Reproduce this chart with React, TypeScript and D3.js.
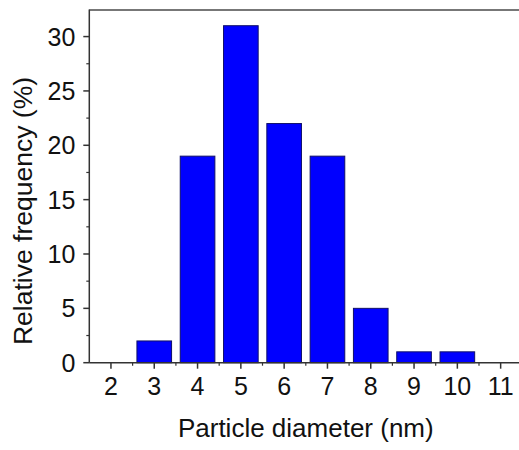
import React from "react";
import * as d3 from "d3";

const diameters = [3, 4, 5, 6, 7, 8, 9, 10];
const frequencies = [2, 19, 31, 22, 19, 5, 1, 1];
const xTickValues = [2, 3, 4, 5, 6, 7, 8, 9, 10, 11];
const yTickValues = [0, 5, 10, 15, 20, 25, 30];
const xTitle = "Particle diameter (nm)";
const yTitle = "Relative frequency (%)";

export default function App() {
  const W = 519;
  const H = 450;
  const left = 89.3;
  const right = 522.3;
  const top = 9.4;
  const bottom = 362.7;

  const x = d3.scaleLinear().domain([1.5, 11.5]).range([left, right]);
  const y = d3.scaleLinear().domain([0, 32.5]).range([bottom, top]);

  const xMinor = d3.range(2.5, 11.5, 1);
  const yMinor = d3.range(2.5, 32.5, 5);
  const font = "'Liberation Sans', Arial, sans-serif";
  const axisColor = "#333";

  return (
    <svg
      width={W}
      height={H}
      style={{ position: "absolute", left: 0, top: 0, background: "#fff" }}
      fontFamily={font}
    >
      <rect x={0} y={0} width={W} height={H} fill="#fff" />
      {diameters.map((d, i) => (
        <rect
          key={d}
          x={x(d - 0.4)}
          y={y(frequencies[i])}
          width={x(d + 0.4) - x(d - 0.4)}
          height={y(0) - y(frequencies[i])}
          fill="#0000ff"
          stroke="#10106a"
          strokeWidth={1}
        />
      ))}
      <line x1={left} x2={W} y1={top + 0.5} y2={top + 0.5} stroke="#777" strokeWidth={2} />
      <line x1={left} x2={left} y1={top} y2={bottom} stroke={axisColor} strokeWidth={1.5} />
      <line x1={left} x2={W} y1={bottom} y2={bottom} stroke={axisColor} strokeWidth={1.5} />
      {yTickValues.map((v) => (
        <g key={"y" + v}>
          <line x1={left - 6} x2={left} y1={y(v)} y2={y(v)} stroke={axisColor} strokeWidth={1.5} />
          <text
            x={left - 14}
            y={y(v)}
            textAnchor="end"
            dominantBaseline="central"
            fontSize={25}
            fill="#111"
          >
            {v}
          </text>
        </g>
      ))}
      {yMinor.map((v) => (
        <line key={"ym" + v} x1={left - 3} x2={left} y1={y(v)} y2={y(v)} stroke={axisColor} strokeWidth={1.2} />
      ))}
      {xTickValues.map((v) => (
        <g key={"x" + v}>
          <line x1={x(v)} x2={x(v)} y1={bottom} y2={bottom + 6} stroke={axisColor} strokeWidth={1.5} />
          <text x={x(v)} y={394.5} textAnchor="middle" fontSize={25} fill="#111">
            {v}
          </text>
        </g>
      ))}
      {xMinor.map((v) => (
        <line key={"xm" + v} x1={x(v)} x2={x(v)} y1={bottom} y2={bottom + 3} stroke={axisColor} strokeWidth={1.2} />
      ))}
      <text x={(left + right) / 2} y={436.5} textAnchor="middle" fontSize={26} fill="#111">
        {xTitle}
      </text>
      <text
        transform={`translate(32, 211) rotate(-90)`}
        textAnchor="middle"
        fontSize={26.5}
        fill="#111"
      >
        {yTitle}
      </text>
    </svg>
  );
}
